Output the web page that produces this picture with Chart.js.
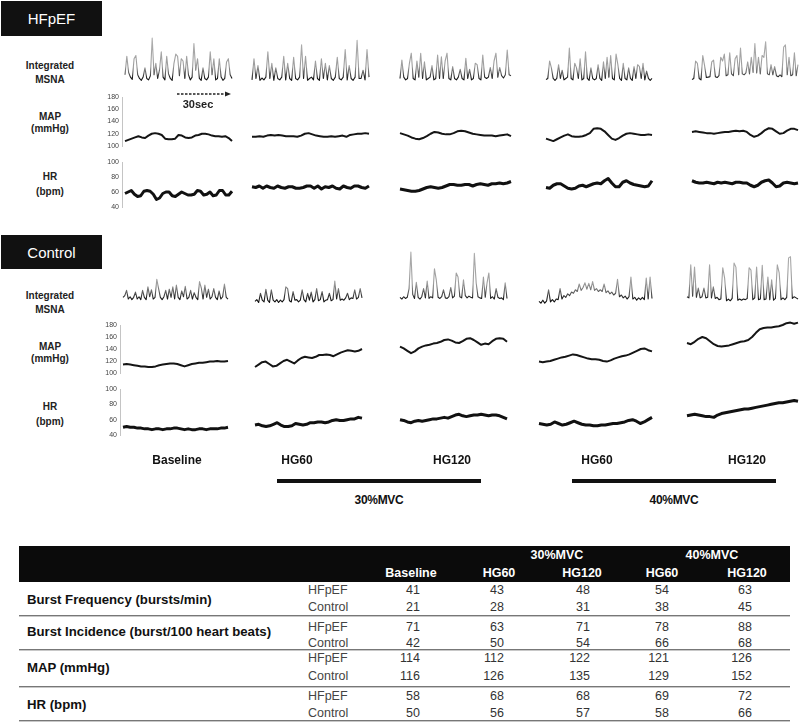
<!DOCTYPE html>
<html>
<head>
<meta charset="utf-8">
<script src="https://cdn.jsdelivr.net/npm/chart.js@4"></script>
<style>
  html, body { margin: 0; padding: 0; background: #fff; }
  #stage { position: relative; width: 800px; height: 723px; overflow: hidden; font-family: "Liberation Sans", Arial, sans-serif; }
  #stage div { position: absolute; }
  .t { white-space: nowrap; line-height: 1; }
  .box { background: #111; color: #fff; font-size: 15px; display: flex; align-items: center; justify-content: center; }
</style>
</head>
<body>
<div id="stage"></div>
<script>
// conditions, left to right
const conditions = ['Baseline', 'HG60', 'HG120', 'HG60', 'HG120'];
const mvcLabels = ['30%MVC', '40%MVC'];

// integrated MSNA, relative units (0 = floor, 100 = tallest burst), one array per condition
const hfpefMSNA = [
  [20,60,25,15,10,55,62,20,12,8,15,35,12,9,18,100,20,45,12,30,70,15,9,60,22,12,8,45,65,60,18,55,50,12,60,20,9,15,88,30,55,12,8,35,12,9,15,70,20,55,9,12,55,15,8,12,48,55,20,12],
  [9,55,12,40,8,13,9,15,70,12,45,8,35,12,9,15,60,9,45,12,8,58,12,9,15,85,12,60,8,12,15,9,50,12,8,55,12,45,9,40,12,8,15,58,12,9,15,75,9,40,12,8,15,95,12,12,30,9,75,15],
  [12,52,15,9,12,45,67,12,9,50,15,67,12,48,9,12,15,40,9,12,63,12,59,12,50,67,12,9,38,12,9,15,32,12,9,56,12,32,9,12,45,42,12,9,63,15,12,15,36,12,50,67,15,36,18,13,20,74,20,18],
  [10,12,50,35,12,8,12,42,12,30,9,12,15,78,12,9,45,35,12,55,9,12,70,12,8,35,12,9,12,42,12,8,48,12,58,15,62,12,9,65,42,12,8,45,12,9,35,12,8,38,12,42,38,12,45,9,28,12,8,12],
  [10,12,50,45,12,9,62,40,14,15,16,48,52,16,14,18,58,50,65,18,20,68,22,18,55,62,20,78,22,20,24,48,22,58,25,88,24,58,22,62,58,92,22,20,42,20,38,18,16,20,16,80,85,20,58,18,20,68,18,42]
];
const controlMSNA = [
  [15,18,27,12,16,11,15,24,12,16,11,27,15,11,33,16,28,12,15,46,30,15,11,16,27,12,29,15,33,12,36,15,11,26,16,34,12,15,27,12,23,15,11,42,31,12,36,15,29,12,16,30,15,11,26,12,16,38,15,12],
  [8,11,6,22,10,7,29,10,6,28,10,7,11,6,10,7,11,33,30,9,7,25,10,11,7,10,28,11,7,22,10,24,7,11,30,9,11,25,7,10,11,22,9,11,43,12,30,10,12,10,14,22,11,14,13,28,12,15,30,14],
  [15,12,16,13,15,30,93,20,13,41,15,12,16,30,14,43,13,16,14,64,45,15,13,16,28,14,13,16,32,14,17,57,50,16,14,45,18,14,17,15,14,91,40,16,14,13,50,15,40,57,13,16,12,30,15,13,14,11,40,13],
  [8,5,10,5,9,28,7,11,7,12,11,30,12,18,15,21,18,24,22,28,25,38,27,32,40,29,39,28,42,27,30,25,28,25,38,23,26,21,24,19,22,46,16,19,14,17,12,16,50,12,15,10,14,11,15,11,48,12,50,13],
  [16,14,71,17,67,15,31,14,16,31,14,15,71,14,33,13,15,11,12,66,48,9,12,9,13,74,67,10,12,10,12,11,13,66,62,11,14,67,11,12,70,11,12,50,11,45,10,13,71,57,11,14,11,15,83,85,13,16,14,12]
];

// MAP (mmHg)
const hfpefMAP = [
  [108,110,112,114,116,114,113,117,120,121,120,118,112,111,111,112,118,117,114,113,114,117,118,120,120,119,117,116,116,115,116,113,108],
  [115,115,116,115,117,118,117,118,117,116,116,116,115,117,120,121,119,117,116,115,115,116,115,116,117,115,118,119,120,120,121,120],
  [121,119,117,114,112,111,113,116,120,123,122,120,119,119,121,124,125,124,122,120,119,118,117,117,117,116,117,118,119,116],
  [112,110,108,111,114,117,119,116,115,115,116,118,121,128,129,128,124,118,112,110,113,117,120,121,120,119,118,118,119,118],
  [123,124,123,122,121,121,120,121,122,123,123,124,125,124,125,123,118,115,117,121,126,129,128,124,120,121,125,128,128,126]
];
const controlMAP = [
  [114,115,114,113,112,111,111,110,110,111,113,114,115,116,116,115,113,111,113,115,116,117,117,118,119,119,120,119,119,120],
  [110,114,118,119,115,111,112,116,120,122,119,116,121,125,127,126,125,127,130,130,131,130,128,131,134,136,138,137,136,137,140],
  [144,141,137,133,136,141,144,146,147,149,150,152,155,156,154,151,150,153,157,158,155,151,147,149,148,153,157,158,157,152],
  [119,118,119,120,122,124,126,127,129,131,130,128,126,124,123,123,122,120,119,121,124,126,128,129,131,134,137,140,141,138,136],
  [150,148,152,157,160,158,153,148,145,144,145,146,148,150,152,153,155,160,167,173,175,176,176,177,178,180,183,184,182,184]
];

// HR (bpm)
const hfpefHR = [
  [58,60,62,57,54,55,61,62,61,57,50,52,58,60,60,55,54,57,60,58,56,56,57,62,61,56,57,60,55,56,62,62,56,56,61],
  [67,66,68,65,68,66,65,68,66,65,67,67,65,65,66,68,68,65,68,64,67,66,68,65,64,68,66,65,68,68,66,65,68],
  [64,63,62,61,61,62,64,66,67,66,65,66,68,70,70,69,69,70,70,68,70,71,70,69,71,71,72,71,72,74],
  [66,65,69,71,71,68,65,64,65,68,69,67,69,71,72,71,75,78,72,67,67,73,75,72,70,69,68,67,68,75],
  [75,73,72,72,73,72,71,73,72,73,72,71,73,73,72,72,69,67,69,73,75,76,72,67,68,72,73,72,71,72]
];
const controlHR = [
  [50,51,50,50,49,49,48,48,47,48,48,47,48,48,49,49,48,47,48,47,47,48,48,47,48,48,48,49,49,50],
  [53,54,52,51,52,54,56,53,51,51,52,55,54,53,54,56,56,57,57,56,57,59,60,59,59,60,61,61,63,62],
  [60,59,57,56,58,59,58,59,60,61,61,62,63,62,64,66,67,65,64,65,66,66,67,66,65,66,66,65,63,61],
  [55,54,53,54,57,55,53,54,56,58,56,54,53,53,52,52,53,53,54,55,55,56,57,59,60,58,55,57,60,63],
  [65,66,67,66,65,64,64,63,66,68,69,70,71,72,73,74,74,75,76,77,78,79,80,81,82,82,83,84,85,84]
];

// table
const tableMeasures = ['Burst Frequency (bursts/min)', 'Burst Incidence (burst/100 heart beats)', 'MAP (mmHg)', 'HR (bpm)'];
const groups = ['HFpEF', 'Control'];
const hfpefTable = [[41,43,48,54,63],[71,63,71,78,88],[114,112,122,121,126],[58,68,68,69,72]];
const controlTable = [[21,28,31,38,45],[42,50,54,66,68],[116,126,135,129,152],[50,56,57,58,66]];

const stage = document.getElementById('stage');
const PAD = 8;

function block(css, cls, txt) {
  const e = document.createElement('div');
  e.style.cssText = css;
  if (cls) e.className = cls;
  if (txt !== undefined) e.textContent = txt;
  stage.appendChild(e);
  return e;
}

// y is the vertical centre of the text; align 'l' | 'c' | 'r'
function text(str, x, y, css, align) {
  const tx = align === 'l' ? '0' : align === 'r' ? '-100%' : '-50%';
  return block(`left:${x}px;top:${y}px;transform:translate(${tx},-50%);${css}`, 't', str);
}

function addCanvas(left, top, w, h) {
  const c = document.createElement('canvas');
  c.width = w; c.height = h;
  c.style.cssText = `position:absolute;left:${left}px;top:${top}px;width:${w}px;height:${h}px`;
  stage.appendChild(c);
  return c;
}

const baseOpts = (min, max) => ({
  responsive: false,
  animation: false,
  devicePixelRatio: 1,
  events: [],
  layout: { padding: PAD },
  plugins: { legend: { display: false }, tooltip: { enabled: false } },
  scales: { x: { display: false }, y: { display: false, min: min, max: max } }
});

function trace(x0, x1, yTop, yBot, values, min, max, style) {
  const c = addCanvas(x0 - PAD, yTop - PAD, x1 - x0 + 2 * PAD, yBot - yTop + 2 * PAD);
  new Chart(c, {
    type: 'line',
    data: {
      labels: values.map((_, i) => i),
      datasets: [Object.assign({ data: values, pointRadius: 0, tension: 0, clip: false, borderJoinStyle: 'round' }, style)]
    },
    options: baseOpts(min, max)
  });
}

function axis(xLine, yTop, yBot, min, max) {
  const W = 30;
  const c = addCanvas(xLine - W, yTop - PAD, W + 2, yBot - yTop + 2 * PAD);
  const o = baseOpts(min, max);
  o.layout.padding = { top: PAD, bottom: PAD, left: 0, right: 0 };
  o.scales.y = {
    display: true, min: min, max: max,
    afterFit: s => { s.width = W; },
    ticks: { stepSize: 20, padding: 3, color: '#444', font: { size: 7, family: '"Liberation Sans", Arial, sans-serif' } },
    grid: { display: false, drawTicks: false },
    border: { display: true, color: '#c4c4c4', width: 1 }
  };
  new Chart(c, { type: 'line', data: { labels: [0, 1], datasets: [{ data: [] }] }, options: o });
}

// grey bursts, darker near the noisy floor
const msnaStyle = {
  borderWidth: 1.1,
  borderColor: ctx => {
    const a = ctx.chart.chartArea;
    if (!a) return '#888';
    const g = ctx.chart.ctx.createLinearGradient(0, a.top, 0, a.bottom);
    g.addColorStop(0, '#b0b0b0');
    g.addColorStop(0.62, '#9c9c9c');
    g.addColorStop(0.78, '#555');
    g.addColorStop(0.86, '#1e1e1e');
    g.addColorStop(1, '#000');
    return g;
  }
};
const mapStyle = { borderWidth: 2, borderColor: '#151515' };
const hrStyle = { borderWidth: 3, borderColor: '#111' };

const panels = [
  { title: 'HFpEF', box: [1, 1, 101, 35], msna: hfpefMSNA, map: hfpefMAP, hr: hfpefHR,
    xs: [[125, 232], [252, 369], [400, 511], [546, 652], [692, 798]], axisX: 122,
    msnaY: [38, 84], mapY: [97, 146], hrY: [162, 207],
    labelY: [66, 80, 117, 129, 177, 192] },
  { title: 'Control', box: [1, 235, 101, 34], msna: controlMSNA, map: controlMAP, hr: controlHR,
    xs: [[123, 228], [255, 362], [400, 507], [539, 652], [687, 798]], axisX: 120,
    msnaY: [248, 306], mapY: [325, 373], hrY: [389, 435],
    labelY: [296, 310, 347, 359, 407, 422] }
];
const rowNames = ['Integrated', 'MSNA', 'MAP', '(mmHg)', 'HR', '(bpm)'];

const bold10 = 'font-size:10px;font-weight:bold;color:#222;';
panels.forEach(p => {
  const [bx, by, bw, bh] = p.box;
  block(`left:${bx}px;top:${by}px;width:${bw}px;height:${bh}px;`, 'box', p.title);
  rowNames.forEach((t, i) => text(t, 50, p.labelY[i], bold10, 'c'));
  axis(p.axisX, p.mapY[0], p.mapY[1], 100, 180);
  axis(p.axisX, p.hrY[0], p.hrY[1], 40, 100);
  p.xs.forEach(([x0, x1], i) => {
    trace(x0, x1, p.msnaY[0], p.msnaY[1], p.msna[i], 0, 100, msnaStyle);
    trace(x0, x1, p.mapY[0], p.mapY[1], p.map[i], 100, 180, mapStyle);
    trace(x0, x1, p.hrY[0], p.hrY[1], p.hr[i], 40, 100, hrStyle);
  });
});

// 30 sec scale arrow
const svgNS = 'http://www.w3.org/2000/svg';
const svg = document.createElementNS(svgNS, 'svg');
svg.setAttribute('width', '60'); svg.setAttribute('height', '8');
svg.style.cssText = 'position:absolute;left:175px;top:90px;';
svg.innerHTML = '<line x1="2" y1="4" x2="52" y2="4" stroke="#222" stroke-width="1.3" stroke-dasharray="2.5,1.5"/><polygon points="50,1.5 56,4 50,6.5" fill="#222"/>';
stage.appendChild(svg);
text('30sec', 198, 104, 'font-size:11px;font-weight:bold;color:#222;', 'c');

// condition labels and MVC bars
const condX = [177, 297, 452, 597, 747];
conditions.forEach((c, i) => text(c, condX[i], 460, 'font-size:12px;font-weight:bold;color:#111;', 'c'));
const bars = [[277, 481], [572, 776]];
bars.forEach(([a, b], i) => {
  block(`left:${a}px;top:479px;width:${b - a}px;height:4px;background:#111;`);
  text(mvcLabels[i], (a + b) / 2, 500, 'font-size:12px;font-weight:bold;color:#111;letter-spacing:-0.3px;', 'c');
});

// table
block('left:19px;top:546px;width:771px;height:36px;background:#0b0b0b;');
const hdrCss = 'font-size:12.5px;font-weight:bold;color:#fff;';
text(mvcLabels[0], 557, 555, hdrCss, 'c');
text(mvcLabels[1], 712, 555, hdrCss, 'c');
const hdrX = [411, 499, 582, 662, 747];
conditions.forEach((c, i) => text(c, hdrX[i], 573, hdrCss, 'c'));
const rowY = [[590, 607], [627, 643], [658, 676], [696, 713]];
const measureY = [600, 632, 668, 705];
const ruleY = [615, 649, 686, 720];
const colRight = [420, 504, 590, 669, 752];
tableMeasures.forEach((m, r) => {
  text(m, 27, measureY[r], 'font-size:13.2px;font-weight:bold;color:#111;', 'l');
  [hfpefTable, controlTable].forEach((tbl, g) => {
    const y = rowY[r][g];
    text(groups[g], 308, y, 'font-size:12.5px;color:#444;', 'l');
    tbl[r].forEach((v, c) => text(String(v), colRight[c], y, 'font-size:12.5px;color:#333;', 'r'));
  });
  block(`left:19px;top:${ruleY[r]}px;width:771px;height:1px;background:#777;border-bottom:1px solid #c8c8c8;`);
});
</script>
</body>
</html>
